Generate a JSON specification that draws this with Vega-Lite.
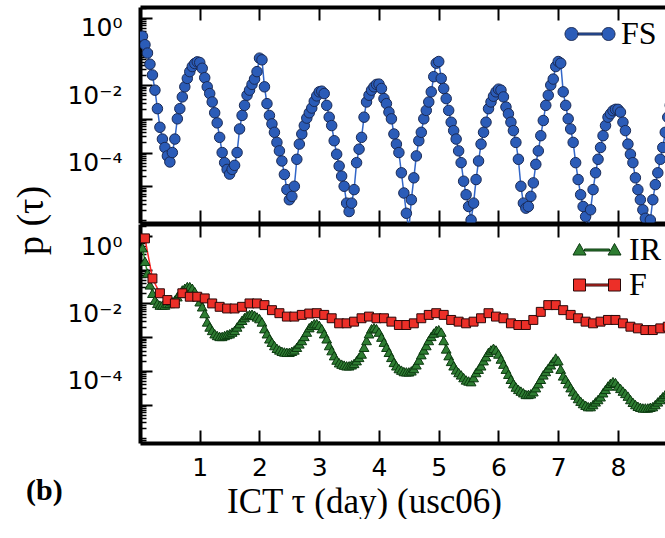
{
"$schema":"https://vega.github.io/schema/vega-lite/v6.json",
"padding":{"left":12,"top":6,"right":0,"bottom":0},
"background":"white",
"spacing":-4,
"title":{"text":"p (τ)","orient":"left","anchor":"middle","font":"Liberation Serif","fontSize":38,"fontWeight":"normal","color":"black","offset":-25,"dx":42},
"resolve":{"scale":{"fill":"independent","color":"independent","shape":"independent","stroke":"independent"},"legend":{"fill":"independent"}},
"config":{"view":{"stroke":null},
"axis":{"grid":false,"domainColor":"black","domainWidth":4,"tickColor":"black","tickWidth":2,"labelFont":"DejaVu Sans","labelFontSize":25,"labelColor":"black","labelFlush":false,"labelOverlap":false,"titleFont":"Liberation Serif","titleFontWeight":"normal","titleColor":"black","zindex":1},
"legend":{"labelFont":"Liberation Serif","labelFontSize":32,"labelColor":"black","padding":0,"symbolSize":400,"rowPadding":3}},
"datasets":{
"fs":[
{"s":"FS","h":1,"p":0.282},{"s":"FS","h":2,"p":0.158},{"s":"FS","h":3,"p":0.0891},{"s":"FS","h":4,"p":0.0417},{"s":"FS","h":5,"p":0.02},{"s":"FS","h":6,"p":0.00708},{"s":"FS","h":7,"p":0.002},{"s":"FS","h":8,"p":0.000562},{"s":"FS","h":9,"p":0.000251},{"s":"FS","h":10,"p":0.000141},
{"s":"FS","h":11,"p":7.94e-5},{"s":"FS","h":12,"p":5.25e-5},{"s":"FS","h":13,"p":1e-4},{"s":"FS","h":14,"p":2.51e-4},{"s":"FS","h":15,"p":1e-3},{"s":"FS","h":16,"p":2e-3},{"s":"FS","h":17,"p":4.47e-3},{"s":"FS","h":18,"p":8.91e-3},{"s":"FS","h":19,"p":1.58e-2},{"s":"FS","h":20,"p":2.51e-2},
{"s":"FS","h":21,"p":3.55e-2},{"s":"FS","h":22,"p":4.37e-2},{"s":"FS","h":23,"p":4.9e-2},{"s":"FS","h":24,"p":4.68e-2},{"s":"FS","h":25,"p":3.16e-2},{"s":"FS","h":26,"p":1.66e-2},{"s":"FS","h":27,"p":8.91e-3},{"s":"FS","h":28,"p":5.62e-3},{"s":"FS","h":29,"p":3.16e-3},{"s":"FS","h":30,"p":1.51e-3},
{"s":"FS","h":31,"p":7.59e-4},{"s":"FS","h":32,"p":2.82e-4},{"s":"FS","h":33,"p":1e-4},{"s":"FS","h":34,"p":5.01e-5},{"s":"FS","h":35,"p":3.16e-5},{"s":"FS","h":36,"p":2.29e-5},{"s":"FS","h":37,"p":3.16e-5},{"s":"FS","h":38,"p":4.17e-5},{"s":"FS","h":39,"p":1e-4},{"s":"FS","h":40,"p":5.01e-4},
{"s":"FS","h":41,"p":1.26e-3},{"s":"FS","h":42,"p":2.51e-3},{"s":"FS","h":43,"p":5.01e-3},{"s":"FS","h":44,"p":7.08e-3},{"s":"FS","h":45,"p":1.05e-2},{"s":"FS","h":46,"p":1.51e-2},{"s":"FS","h":47,"p":2.51e-2},{"s":"FS","h":48,"p":6.31e-2},{"s":"FS","h":49,"p":5.62e-2},{"s":"FS","h":50,"p":8.91e-3},
{"s":"FS","h":51,"p":2.82e-3},{"s":"FS","h":52,"p":1.26e-3},{"s":"FS","h":53,"p":7.08e-4},{"s":"FS","h":54,"p":3.98e-4},{"s":"FS","h":55,"p":2e-4},{"s":"FS","h":56,"p":1.12e-4},{"s":"FS","h":57,"p":5.62e-5},{"s":"FS","h":58,"p":2.24e-5},{"s":"FS","h":59,"p":7.94e-6},{"s":"FS","h":60,"p":3.98e-6},
{"s":"FS","h":61,"p":5.01e-6},{"s":"FS","h":62,"p":1e-5},{"s":"FS","h":63,"p":6.31e-5},{"s":"FS","h":64,"p":1.78e-4},{"s":"FS","h":65,"p":3.55e-4},{"s":"FS","h":66,"p":6.31e-4},{"s":"FS","h":67,"p":1.05e-3},{"s":"FS","h":68,"p":1.51e-3},{"s":"FS","h":69,"p":2.09e-3},{"s":"FS","h":70,"p":3.31e-3},
{"s":"FS","h":71,"p":4.79e-3},{"s":"FS","h":72,"p":6.31e-3},{"s":"FS","h":73,"p":6.61e-3},{"s":"FS","h":74,"p":5.62e-3},{"s":"FS","h":75,"p":2.51e-3},{"s":"FS","h":76,"p":1.12e-3},{"s":"FS","h":77,"p":6.31e-4},{"s":"FS","h":78,"p":2.24e-4},{"s":"FS","h":79,"p":8.91e-5},{"s":"FS","h":80,"p":3.98e-5},
{"s":"FS","h":81,"p":2e-5},{"s":"FS","h":82,"p":1e-5},{"s":"FS","h":83,"p":3.16e-6},{"s":"FS","h":84,"p":1.78e-6},{"s":"FS","h":85,"p":3.16e-6},{"s":"FS","h":86,"p":7.94e-6},{"s":"FS","h":87,"p":5.01e-5},{"s":"FS","h":88,"p":1.26e-4},{"s":"FS","h":89,"p":2.82e-4},{"s":"FS","h":90,"p":1.12e-3},
{"s":"FS","h":91,"p":3.16e-3},{"s":"FS","h":92,"p":5.01e-3},{"s":"FS","h":93,"p":7.08e-3},{"s":"FS","h":94,"p":8.91e-3},{"s":"FS","h":95,"p":1.05e-2},{"s":"FS","h":96,"p":1.07e-2},{"s":"FS","h":97,"p":7.94e-3},{"s":"FS","h":98,"p":3.98e-3},{"s":"FS","h":99,"p":2.82e-3},{"s":"FS","h":100,"p":1.58e-3},
{"s":"FS","h":101,"p":1e-3},{"s":"FS","h":102,"p":3.55e-4},{"s":"FS","h":103,"p":1.78e-4},{"s":"FS","h":104,"p":1e-4},{"s":"FS","h":105,"p":2.51e-5},{"s":"FS","h":106,"p":6.31e-6},{"s":"FS","h":107,"p":1.58e-6},{"s":"FS","h":108,"p":5.01e-7},{"s":"FS","h":109,"p":3.98e-6},{"s":"FS","h":110,"p":1.78e-5},
{"s":"FS","h":111,"p":7.94e-5},{"s":"FS","h":112,"p":2.24e-4},{"s":"FS","h":113,"p":3.98e-4},{"s":"FS","h":114,"p":1e-3},{"s":"FS","h":115,"p":1.78e-3},{"s":"FS","h":116,"p":3.16e-3},{"s":"FS","h":117,"p":6.31e-3},{"s":"FS","h":118,"p":1.78e-2},{"s":"FS","h":119,"p":4.47e-2},{"s":"FS","h":120,"p":5.01e-2},
{"s":"FS","h":121,"p":1.58e-2},{"s":"FS","h":122,"p":7.94e-3},{"s":"FS","h":123,"p":3.98e-3},{"s":"FS","h":124,"p":1.78e-3},{"s":"FS","h":125,"p":7.94e-4},{"s":"FS","h":126,"p":4.47e-4},{"s":"FS","h":127,"p":2.51e-4},{"s":"FS","h":128,"p":1.12e-4},{"s":"FS","h":129,"p":5.01e-5},{"s":"FS","h":130,"p":1.41e-5},
{"s":"FS","h":131,"p":5.62e-6},{"s":"FS","h":132,"p":2.51e-6},{"s":"FS","h":133,"p":1e-6},{"s":"FS","h":134,"p":3.16e-6},{"s":"FS","h":135,"p":1.58e-5},{"s":"FS","h":136,"p":5.62e-5},{"s":"FS","h":137,"p":1.78e-4},{"s":"FS","h":138,"p":3.98e-4},{"s":"FS","h":139,"p":7.94e-4},{"s":"FS","h":140,"p":2e-3},
{"s":"FS","h":141,"p":3.16e-3},{"s":"FS","h":142,"p":4.68e-3},{"s":"FS","h":143,"p":6.31e-3},{"s":"FS","h":144,"p":7.59e-3},{"s":"FS","h":145,"p":7.08e-3},{"s":"FS","h":146,"p":4.47e-3},{"s":"FS","h":147,"p":2.24e-3},{"s":"FS","h":148,"p":1.41e-3},{"s":"FS","h":149,"p":7.94e-4},{"s":"FS","h":150,"p":4.47e-4},
{"s":"FS","h":151,"p":2e-4},{"s":"FS","h":152,"p":6.31e-5},{"s":"FS","h":153,"p":1e-5},{"s":"FS","h":154,"p":3.16e-6},{"s":"FS","h":155,"p":2.24e-6},{"s":"FS","h":156,"p":2.51e-6},{"s":"FS","h":157,"p":5.01e-6},{"s":"FS","h":158,"p":1.26e-5},{"s":"FS","h":159,"p":4.47e-5},{"s":"FS","h":160,"p":1.12e-4},
{"s":"FS","h":161,"p":3.16e-4},{"s":"FS","h":162,"p":8.91e-4},{"s":"FS","h":163,"p":2.51e-3},{"s":"FS","h":164,"p":5.01e-3},{"s":"FS","h":165,"p":1e-2},{"s":"FS","h":166,"p":1.51e-2},{"s":"FS","h":167,"p":3.55e-2},{"s":"FS","h":168,"p":5.01e-2},{"s":"FS","h":169,"p":4.47e-2},{"s":"FS","h":170,"p":6.31e-3},
{"s":"FS","h":171,"p":2.51e-3},{"s":"FS","h":172,"p":1e-3},{"s":"FS","h":173,"p":5.01e-4},{"s":"FS","h":174,"p":2e-4},{"s":"FS","h":175,"p":5.01e-5},{"s":"FS","h":176,"p":1.58e-5},{"s":"FS","h":177,"p":5.62e-6},{"s":"FS","h":178,"p":2.51e-6},{"s":"FS","h":179,"p":1.26e-6},{"s":"FS","h":180,"p":5.01e-7},
{"s":"FS","h":181,"p":2e-6},{"s":"FS","h":182,"p":7.94e-6},{"s":"FS","h":183,"p":2.51e-5},{"s":"FS","h":184,"p":6.31e-5},{"s":"FS","h":185,"p":1.41e-4},{"s":"FS","h":186,"p":3.16e-4},{"s":"FS","h":187,"p":6.31e-4},{"s":"FS","h":188,"p":1.12e-3},{"s":"FS","h":189,"p":1.41e-3},{"s":"FS","h":190,"p":1.74e-3},
{"s":"FS","h":191,"p":1.91e-3},{"s":"FS","h":192,"p":1.91e-3},{"s":"FS","h":193,"p":1.58e-3},{"s":"FS","h":194,"p":7.94e-4},{"s":"FS","h":195,"p":4.47e-4},{"s":"FS","h":196,"p":1.78e-4},{"s":"FS","h":197,"p":8.91e-5},{"s":"FS","h":198,"p":5.01e-5},{"s":"FS","h":199,"p":1.78e-5},{"s":"FS","h":200,"p":7.94e-6},
{"s":"FS","h":201,"p":3.98e-6},{"s":"FS","h":202,"p":2e-6},{"s":"FS","h":203,"p":1.12e-6},{"s":"FS","h":204,"p":5.01e-7},{"s":"FS","h":205,"p":1e-6},{"s":"FS","h":206,"p":3.98e-6},{"s":"FS","h":207,"p":1.12e-5},{"s":"FS","h":208,"p":2.51e-5},{"s":"FS","h":209,"p":6.31e-5},{"s":"FS","h":210,"p":1.41e-4},
{"s":"FS","h":211,"p":3.98e-4},{"s":"FS","h":212,"p":1.12e-3},{"s":"FS","h":213,"p":2.51e-3}
],
"bot":[
{"s":"IR","h":1,"p":0.447},{"s":"IR","h":2,"p":0.178},{"s":"IR","h":3,"p":0.0794},{"s":"IR","h":4,"p":0.0355},{"s":"IR","h":5,"p":0.02},{"s":"IR","h":6,"p":0.0126},{"s":"IR","h":7,"p":0.01},{"s":"IR","h":8,"p":0.00891},{"s":"IR","h":9,"p":0.00891},{"s":"IR","h":10,"p":0.00891},
{"s":"IR","h":11,"p":0.01},{"s":"IR","h":12,"p":0.01},{"s":"IR","h":13,"p":0.0112},{"s":"IR","h":14,"p":0.0126},{"s":"IR","h":15,"p":0.0158},{"s":"IR","h":16,"p":0.02},{"s":"IR","h":17,"p":0.0251},{"s":"IR","h":18,"p":0.0282},{"s":"IR","h":19,"p":0.0316},{"s":"IR","h":20,"p":0.0316},
{"s":"IR","h":21,"p":0.0282},{"s":"IR","h":22,"p":0.0224},{"s":"IR","h":23,"p":0.0158},{"s":"IR","h":24,"p":0.0112},{"s":"IR","h":25,"p":0.00794},{"s":"IR","h":26,"p":0.00501},{"s":"IR","h":27,"p":0.00282},{"s":"IR","h":28,"p":0.002},{"s":"IR","h":29,"p":0.00158},{"s":"IR","h":30,"p":0.00126},
{"s":"IR","h":31,"p":0.00112},{"s":"IR","h":32,"p":0.00105},{"s":"IR","h":33,"p":0.00105},{"s":"IR","h":34,"p":0.00112},{"s":"IR","h":35,"p":0.0012},{"s":"IR","h":36,"p":0.00126},{"s":"IR","h":37,"p":0.00141},{"s":"IR","h":38,"p":0.00158},{"s":"IR","h":39,"p":0.002},{"s":"IR","h":40,"p":0.00251},
{"s":"IR","h":41,"p":0.00316},{"s":"IR","h":42,"p":0.0038},{"s":"IR","h":43,"p":0.00437},{"s":"IR","h":44,"p":0.00468},{"s":"IR","h":45,"p":0.00479},{"s":"IR","h":46,"p":0.00447},{"s":"IR","h":47,"p":0.00398},{"s":"IR","h":48,"p":0.00355},{"s":"IR","h":49,"p":0.00282},{"s":"IR","h":50,"p":0.00178},
{"s":"IR","h":51,"p":0.00126},{"s":"IR","h":52,"p":0.000891},{"s":"IR","h":53,"p":0.000708},{"s":"IR","h":54,"p":0.000562},{"s":"IR","h":55,"p":0.000468},{"s":"IR","h":56,"p":0.000417},{"s":"IR","h":57,"p":0.00038},{"s":"IR","h":58,"p":0.000363},{"s":"IR","h":59,"p":0.000355},{"s":"IR","h":60,"p":0.000355},
{"s":"IR","h":61,"p":0.00038},{"s":"IR","h":62,"p":0.000417},{"s":"IR","h":63,"p":0.000501},{"s":"IR","h":64,"p":0.000631},{"s":"IR","h":65,"p":0.000794},{"s":"IR","h":66,"p":0.00105},{"s":"IR","h":67,"p":0.00141},{"s":"IR","h":68,"p":0.00191},{"s":"IR","h":69,"p":0.00224},{"s":"IR","h":70,"p":0.00251},
{"s":"IR","h":71,"p":0.00251},{"s":"IR","h":72,"p":0.00224},{"s":"IR","h":73,"p":0.00178},{"s":"IR","h":74,"p":0.00126},{"s":"IR","h":75,"p":0.000891},{"s":"IR","h":76,"p":0.000562},{"s":"IR","h":77,"p":0.000398},{"s":"IR","h":78,"p":0.000282},{"s":"IR","h":79,"p":0.000209},{"s":"IR","h":80,"p":0.000174},
{"s":"IR","h":81,"p":0.000158},{"s":"IR","h":82,"p":0.000148},{"s":"IR","h":83,"p":0.000141},{"s":"IR","h":84,"p":0.000141},{"s":"IR","h":85,"p":0.000151},{"s":"IR","h":86,"p":0.000166},{"s":"IR","h":87,"p":0.0002},{"s":"IR","h":88,"p":0.000251},{"s":"IR","h":89,"p":0.000316},{"s":"IR","h":90,"p":0.000501},
{"s":"IR","h":91,"p":0.000794},{"s":"IR","h":92,"p":0.00126},{"s":"IR","h":93,"p":0.00178},{"s":"IR","h":94,"p":0.00191},{"s":"IR","h":95,"p":0.00178},{"s":"IR","h":96,"p":0.00141},{"s":"IR","h":97,"p":0.001},{"s":"IR","h":98,"p":0.000708},{"s":"IR","h":99,"p":0.000501},{"s":"IR","h":100,"p":0.000355},
{"s":"IR","h":101,"p":0.000251},{"s":"IR","h":102,"p":0.000178},{"s":"IR","h":103,"p":0.000141},{"s":"IR","h":104,"p":0.000117},{"s":"IR","h":105,"p":0.000105},{"s":"IR","h":106,"p":9.55e-5},{"s":"IR","h":107,"p":9.33e-5},{"s":"IR","h":108,"p":9.33e-5},{"s":"IR","h":109,"p":1e-4},{"s":"IR","h":110,"p":1.17e-4},
{"s":"IR","h":111,"p":1.51e-4},{"s":"IR","h":112,"p":2.09e-4},{"s":"IR","h":113,"p":3.02e-4},{"s":"IR","h":114,"p":4.17e-4},{"s":"IR","h":115,"p":5.62e-4},{"s":"IR","h":116,"p":7.94e-4},{"s":"IR","h":117,"p":1.05e-3},{"s":"IR","h":118,"p":1.32e-3},{"s":"IR","h":119,"p":1.58e-3},{"s":"IR","h":120,"p":1.66e-3},
{"s":"IR","h":121,"p":1.41e-3},{"s":"IR","h":122,"p":7.94e-4},{"s":"IR","h":123,"p":4.47e-4},{"s":"IR","h":124,"p":2.82e-4},{"s":"IR","h":125,"p":1.91e-4},{"s":"IR","h":126,"p":1.41e-4},{"s":"IR","h":127,"p":1.07e-4},{"s":"IR","h":128,"p":8.91e-5},{"s":"IR","h":129,"p":7.59e-5},{"s":"IR","h":130,"p":6.31e-5},
{"s":"IR","h":131,"p":5.37e-5},{"s":"IR","h":132,"p":5.01e-5},{"s":"IR","h":133,"p":4.79e-5},{"s":"IR","h":134,"p":6.31e-5},{"s":"IR","h":135,"p":8.91e-5},{"s":"IR","h":136,"p":1.12e-4},{"s":"IR","h":137,"p":1.41e-4},{"s":"IR","h":138,"p":2e-4},{"s":"IR","h":139,"p":2.63e-4},{"s":"IR","h":140,"p":3.55e-4},
{"s":"IR","h":141,"p":4.17e-4},{"s":"IR","h":142,"p":4.68e-4},{"s":"IR","h":143,"p":4.17e-4},{"s":"IR","h":144,"p":3.16e-4},{"s":"IR","h":145,"p":2.24e-4},{"s":"IR","h":146,"p":1.58e-4},{"s":"IR","h":147,"p":1.12e-4},{"s":"IR","h":148,"p":7.94e-5},{"s":"IR","h":149,"p":5.62e-5},{"s":"IR","h":150,"p":4.17e-5},
{"s":"IR","h":151,"p":3.31e-5},{"s":"IR","h":152,"p":2.82e-5},{"s":"IR","h":153,"p":2.51e-5},{"s":"IR","h":154,"p":2.24e-5},{"s":"IR","h":155,"p":2e-5},{"s":"IR","h":156,"p":2e-5},{"s":"IR","h":157,"p":2.09e-5},{"s":"IR","h":158,"p":2.4e-5},{"s":"IR","h":159,"p":3.16e-5},{"s":"IR","h":160,"p":4.17e-5},
{"s":"IR","h":161,"p":5.62e-5},{"s":"IR","h":162,"p":7.59e-5},{"s":"IR","h":163,"p":9.55e-5},{"s":"IR","h":164,"p":1.2e-4},{"s":"IR","h":165,"p":1.51e-4},{"s":"IR","h":166,"p":1.91e-4},{"s":"IR","h":167,"p":2.4e-4},{"s":"IR","h":168,"p":2e-4},{"s":"IR","h":169,"p":1.12e-4},{"s":"IR","h":170,"p":7.08e-5},
{"s":"IR","h":171,"p":5.62e-5},{"s":"IR","h":172,"p":4.17e-5},{"s":"IR","h":173,"p":3.16e-5},{"s":"IR","h":174,"p":2.4e-5},{"s":"IR","h":175,"p":1.91e-5},{"s":"IR","h":176,"p":1.51e-5},{"s":"IR","h":177,"p":1.26e-5},{"s":"IR","h":178,"p":1.07e-5},{"s":"IR","h":179,"p":9.55e-6},{"s":"IR","h":180,"p":8.71e-6},
{"s":"IR","h":181,"p":8.71e-6},{"s":"IR","h":182,"p":1e-5},{"s":"IR","h":183,"p":1.2e-5},{"s":"IR","h":184,"p":1.41e-5},{"s":"IR","h":185,"p":1.7e-5},{"s":"IR","h":186,"p":2.24e-5},{"s":"IR","h":187,"p":2.82e-5},{"s":"IR","h":188,"p":3.55e-5},{"s":"IR","h":189,"p":4.27e-5},{"s":"IR","h":190,"p":4.79e-5},
{"s":"IR","h":191,"p":4.47e-5},{"s":"IR","h":192,"p":3.55e-5},{"s":"IR","h":193,"p":3.02e-5},{"s":"IR","h":194,"p":2.51e-5},{"s":"IR","h":195,"p":2.14e-5},{"s":"IR","h":196,"p":1.78e-5},{"s":"IR","h":197,"p":1.41e-5},{"s":"IR","h":198,"p":1.17e-5},{"s":"IR","h":199,"p":1e-5},{"s":"IR","h":200,"p":8.91e-6},
{"s":"IR","h":201,"p":8.32e-6},{"s":"IR","h":202,"p":7.94e-6},{"s":"IR","h":203,"p":7.94e-6},{"s":"IR","h":204,"p":7.94e-6},{"s":"IR","h":205,"p":8.32e-6},{"s":"IR","h":206,"p":8.71e-6},{"s":"IR","h":207,"p":1e-5},{"s":"IR","h":208,"p":1.2e-5},{"s":"IR","h":209,"p":1.41e-5},{"s":"IR","h":210,"p":1.7e-5},
{"s":"IR","h":211,"p":2e-5},{"s":"IR","h":212,"p":2.24e-5},
{"s":"F","h":2,"p":0.851},{"s":"F","h":5,"p":0.055},{"s":"F","h":8,"p":0.02},{"s":"F","h":11,"p":0.0126},{"s":"F","h":14,"p":0.01},{"s":"F","h":17,"p":0.02},{"s":"F","h":20,"p":0.0158},{"s":"F","h":23,"p":0.0158},{"s":"F","h":26,"p":0.0141},{"s":"F","h":29,"p":0.01},
{"s":"F","h":32,"p":0.00794},{"s":"F","h":35,"p":0.00708},{"s":"F","h":38,"p":0.00708},{"s":"F","h":41,"p":0.00794},{"s":"F","h":44,"p":0.01},{"s":"F","h":47,"p":0.01},{"s":"F","h":50,"p":0.00891},{"s":"F","h":53,"p":0.00631},{"s":"F","h":56,"p":0.00513},{"s":"F","h":59,"p":0.00407},
{"s":"F","h":62,"p":0.00407},{"s":"F","h":65,"p":0.00457},{"s":"F","h":68,"p":0.00501},{"s":"F","h":71,"p":0.00513},{"s":"F","h":74,"p":0.00457},{"s":"F","h":77,"p":0.00363},{"s":"F","h":80,"p":0.00257},{"s":"F","h":83,"p":0.00257},{"s":"F","h":86,"p":0.00288},{"s":"F","h":89,"p":0.00363},
{"s":"F","h":92,"p":0.00407},{"s":"F","h":95,"p":0.00363},{"s":"F","h":98,"p":0.00363},{"s":"F","h":101,"p":0.00288},{"s":"F","h":104,"p":0.00229},{"s":"F","h":107,"p":0.00229},{"s":"F","h":110,"p":0.00257},{"s":"F","h":113,"p":0.00363},{"s":"F","h":116,"p":0.00457},{"s":"F","h":119,"p":0.00513},
{"s":"F","h":122,"p":0.00457},{"s":"F","h":125,"p":0.00324},{"s":"F","h":128,"p":0.00288},{"s":"F","h":131,"p":0.00257},{"s":"F","h":134,"p":0.00288},{"s":"F","h":137,"p":0.00363},{"s":"F","h":140,"p":0.00513},{"s":"F","h":143,"p":0.00407},{"s":"F","h":146,"p":0.00363},{"s":"F","h":149,"p":0.00257},
{"s":"F","h":152,"p":0.00229},{"s":"F","h":155,"p":0.00229},{"s":"F","h":158,"p":0.00324},{"s":"F","h":161,"p":0.00562},{"s":"F","h":164,"p":0.00891},{"s":"F","h":167,"p":0.00891},{"s":"F","h":170,"p":0.00631},{"s":"F","h":173,"p":0.00457},{"s":"F","h":176,"p":0.00363},{"s":"F","h":179,"p":0.00288},
{"s":"F","h":182,"p":0.00257},{"s":"F","h":185,"p":0.00288},{"s":"F","h":188,"p":0.00324},{"s":"F","h":191,"p":0.00324},{"s":"F","h":194,"p":0.00257},{"s":"F","h":197,"p":0.00204},{"s":"F","h":200,"p":0.00182},{"s":"F","h":203,"p":0.00162},{"s":"F","h":206,"p":0.00162},{"s":"F","h":209,"p":0.00182},
{"s":"F","h":212,"p":0.00204}
]},
"vconcat":[
{"width":529,"height":216,"data":{"name":"fs"},
"layer":[
{"mark":{"type":"line","color":"#3266c8","strokeWidth":1.5,"clip":true},
"encoding":{
"x":{"field":"h","type":"quantitative","scale":{"domain":[0,212.5],"nice":false,"zero":false},"axis":{"orient":"bottom","values":[24,48,72,96,120,144,168,192],"labels":false,"tickSize":-13,"title":null}},
"y":{"field":"p","type":"quantitative","scale":{"type":"log","domain":[8.13e-7,2.075],"nice":false},"axis":{"orient":"left","values":[0.00001,0.0001,0.001,0.01,0.1,1],
"labelExpr":"datum.value == 1 ? '10⁰' : datum.value == 0.01 ? '10⁻²' : datum.value == 0.0001 ? '10⁻⁴' : ''",
"tickSize":-12,"tickWidth":2,"labelPadding":30,"labelOffset":10,"title":null}}}},
{"mark":{"type":"point","shape":"circle","filled":true,"size":110,"opacity":1,"stroke":"#1a2a55","strokeWidth":1,"clip":true},
"encoding":{
"x":{"field":"h","type":"quantitative","scale":{"domain":[0,212.5],"nice":false,"zero":false},"axis":{"orient":"top","values":[24,48,72,96,120,144,168,192],"labels":false,"tickSize":-13,"title":null}},
"y":{"field":"p","type":"quantitative","scale":{"type":"log","domain":[8.13e-7,2.075],"nice":false},"axis":{"orient":"right","offset":-529,"values":[9e-7,0.000001,2e-6,3e-6,4e-6,5e-6,6e-6,7e-6,8e-6,9e-6,2e-5,3e-5,4e-5,5e-5,6e-5,7e-5,8e-5,9e-5,0.0002,0.0003,0.0004,0.0005,0.0006,0.0007,0.0008,0.0009,0.002,0.003,0.004,0.005,0.006,0.007,0.008,0.009,0.02,0.03,0.04,0.05,0.06,0.07,0.08,0.09,0.2,0.3,0.4,0.5,0.6,0.7,0.8,0.9,2],"labels":false,"domain":false,"tickSize":6,"tickWidth":1.5,"title":null}},
"fill":{"field":"s","type":"nominal","scale":{"domain":["FS"],"range":["#2b5cb8"]},
"legend":{"title":null,"orient":"none","legendX":434,"legendY":11,"labelOffset":15,
"symbolType":"M-1.2,0A0.65,0.65,0,1,1,-2.5,0A0.65,0.65,0,1,1,-1.2,0ZM2.5,0A0.65,0.65,0,1,1,1.2,0A0.65,0.65,0,1,1,2.5,0ZM-1.2,-0.1L1.2,-0.1L1.2,0.1L-1.2,0.1Z",
"symbolStrokeColor":"#1a2a55","symbolStrokeWidth":1}}}}
]},
{"width":529,"height":219,"data":{"name":"bot"},
"title":{"text":"(b)","orient":"bottom","anchor":"start","frame":"bounds","font":"Liberation Serif","fontSize":30,"fontWeight":"bold","color":"black","baseline":"alphabetic","dx":-41,"dy":-19,"offset":0},
"resolve":{"scale":{"fill":"independent"},"legend":{"fill":"independent"}},
"layer":[
{"mark":{"type":"line","strokeWidth":1.5,"clip":true},
"encoding":{
"x":{"field":"h","type":"quantitative","scale":{"domain":[0,212.5],"nice":false,"zero":false},"axis":{"orient":"bottom","values":[24,48,72,96,120,144,168,192],"labelExpr":"datum.value/24","labelFontSize":25,"tickSize":-13,"labelPadding":25,"title":"ICT τ (day) (usc06)","titleFontSize":35,"titleX":224,"titleY":69,"titleAlign":"center","titleBaseline":"alphabetic"}},
"y":{"field":"p","type":"quantitative","scale":{"type":"log","domain":[7.24e-7,2.27],"nice":false},"axis":{"orient":"left","values":[0.00001,0.0001,0.001,0.01,0.1,1],
"labelExpr":"datum.value == 1 ? '10⁰' : datum.value == 0.01 ? '10⁻²' : datum.value == 0.0001 ? '10⁻⁴' : ''",
"tickSize":-12,"tickWidth":2,"labelPadding":30,"labelOffset":10,"title":null}},
"color":{"field":"s","type":"nominal","scale":{"domain":["IR","F"],"range":["#2f8f2f","#ff2424"]},"legend":null}}},
{"transform":[{"filter":"datum.s == 'IR'"}],
"mark":{"type":"point","shape":"triangle-up","filled":true,"opacity":1,"stroke":"#0c3a10","strokeWidth":1,"size":95,"clip":true},
"encoding":{
"x":{"field":"h","type":"quantitative","scale":{"domain":[0,212.5],"nice":false,"zero":false},"axis":{"orient":"top","values":[24,48,72,96,120,144,168,192],"labels":false,"tickSize":-13,"title":null}},
"y":{"field":"p","type":"quantitative","scale":{"type":"log","domain":[7.24e-7,2.27],"nice":false},"axis":{"orient":"right","offset":-529,"values":[8e-7,9e-7,0.000001,2e-6,3e-6,4e-6,5e-6,6e-6,7e-6,8e-6,9e-6,2e-5,3e-5,4e-5,5e-5,6e-5,7e-5,8e-5,9e-5,0.0002,0.0003,0.0004,0.0005,0.0006,0.0007,0.0008,0.0009,0.002,0.003,0.004,0.005,0.006,0.007,0.008,0.009,0.02,0.03,0.04,0.05,0.06,0.07,0.08,0.09,0.2,0.3,0.4,0.5,0.6,0.7,0.8,0.9,2],"labels":false,"domain":false,"tickSize":6,"tickWidth":1.5,"title":null}},
"fill":{"field":"s","type":"nominal","scale":{"domain":["IR"],"range":["#2e7d32"]},
"legend":{"title":null,"orient":"none","legendX":441,"legendY":10,"labelOffset":16,
"symbolType":"M-1.75,-0.65L-1.1,0.5L-2.4,0.5ZM1.75,-0.65L2.4,0.5L1.1,0.5ZM-1.25,-0.1L1.25,-0.1L1.25,0.1L-1.25,0.1Z",
"symbolStrokeColor":"#0c3a10","symbolStrokeWidth":1}}}},
{"transform":[{"filter":"datum.s == 'F'"}],
"mark":{"type":"point","shape":"square","filled":true,"opacity":1,"stroke":"#2a0808","strokeWidth":1,"size":80,"clip":true},
"encoding":{
"x":{"field":"h","type":"quantitative","scale":{"domain":[0,212.5],"nice":false,"zero":false},"axis":null},
"y":{"field":"p","type":"quantitative","scale":{"type":"log","domain":[7.24e-7,2.27],"nice":false},"axis":null},
"fill":{"field":"s","type":"nominal","scale":{"domain":["F"],"range":["#ec2f28"]},
"legend":{"title":null,"orient":"none","legendX":441,"legendY":45,"labelOffset":16,
"symbolType":"M-2.35,-0.6L-1.15,-0.6L-1.15,0.6L-2.35,0.6ZM1.15,-0.6L2.35,-0.6L2.35,0.6L1.15,0.6ZM-1.15,-0.1L1.15,-0.1L1.15,0.1L-1.15,0.1Z",
"symbolStrokeColor":"#2a0808","symbolStrokeWidth":1}}}}
]}
]
}
